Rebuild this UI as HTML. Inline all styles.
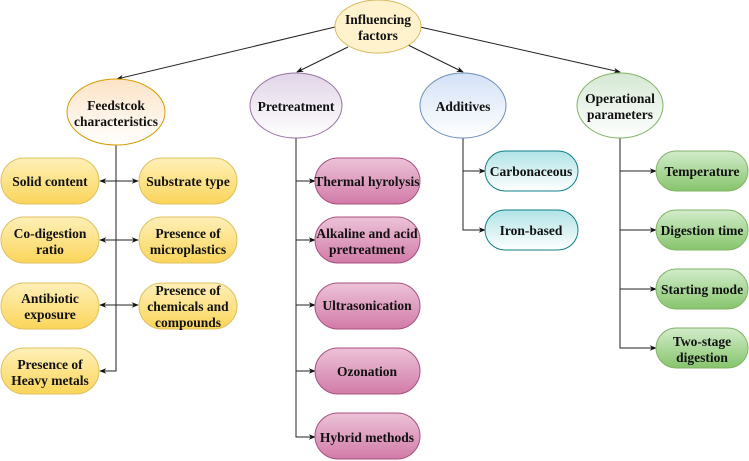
<!DOCTYPE html>
<html><head><meta charset="utf-8"><style>
html,body{margin:0;padding:0;background:#fff;font-family:"Liberation Serif",serif}
svg{display:block}
</style></head><body>
<svg width="749" height="461" viewBox="0 0 749 461" xmlns="http://www.w3.org/2000/svg">
<defs>
<linearGradient id="gRoot" x1="0" y1="0" x2="0" y2="1"><stop offset="0" stop-color="#fff2cc"/><stop offset="1" stop-color="#fff2cc"/></linearGradient>
<linearGradient id="gFeed" x1="0" y1="0" x2="0" y2="1"><stop offset="0" stop-color="#fde3c6"/><stop offset="1" stop-color="#ffffff"/></linearGradient>
<linearGradient id="gPre" x1="0" y1="0" x2="0" y2="1"><stop offset="0" stop-color="#e1d5e7"/><stop offset="1" stop-color="#ffffff"/></linearGradient>
<linearGradient id="gAdd" x1="0" y1="0" x2="0" y2="1"><stop offset="0" stop-color="#d4e1f7"/><stop offset="1" stop-color="#ffffff"/></linearGradient>
<linearGradient id="gOp" x1="0" y1="0" x2="0" y2="1"><stop offset="0" stop-color="#d5e8d4"/><stop offset="1" stop-color="#ffffff"/></linearGradient>
<linearGradient id="gY" x1="0" y1="0" x2="0" y2="1"><stop offset="0" stop-color="#fff0b8"/><stop offset="1" stop-color="#fbd55a"/></linearGradient>
<linearGradient id="gP" x1="0" y1="0" x2="0" y2="1"><stop offset="0" stop-color="#ecc3d8"/><stop offset="1" stop-color="#d27ba8"/></linearGradient>
<linearGradient id="gC" x1="0" y1="0" x2="0" y2="1"><stop offset="0" stop-color="#b0e3e6"/><stop offset="1" stop-color="#ffffff"/></linearGradient>
<linearGradient id="gG" x1="0" y1="0" x2="0" y2="1"><stop offset="0" stop-color="#d2eccb"/><stop offset="1" stop-color="#86c56b"/></linearGradient>
<marker id="ah" viewBox="0 0 10 10" refX="9" refY="5" markerWidth="7" markerHeight="7" orient="auto-start-reverse"><path d="M0,1 L10,5 L0,9 L3,5 Z" fill="#111"/></marker>
</defs>
<g stroke="#222" stroke-width="1" fill="none">
<line x1="335" y1="27" x2="117" y2="79" marker-end="url(#ah)"/>
<line x1="348" y1="47" x2="297" y2="72" marker-end="url(#ah)"/>
<line x1="408" y1="45" x2="463" y2="72" marker-end="url(#ah)"/>
<line x1="420" y1="27" x2="620" y2="72" marker-end="url(#ah)"/>
<path d="M116,145 V371 H100" marker-end="url(#ah)"/>
<line x1="116" y1="181" x2="100" y2="181" marker-end="url(#ah)"/>
<line x1="116" y1="240" x2="100" y2="240" marker-end="url(#ah)"/>
<line x1="116" y1="305" x2="100" y2="305" marker-end="url(#ah)"/>
<line x1="116" y1="181" x2="138" y2="181" marker-end="url(#ah)"/>
<line x1="116" y1="240" x2="138" y2="240" marker-end="url(#ah)"/>
<line x1="116" y1="305" x2="138" y2="305" marker-end="url(#ah)"/>
<path d="M296,138 V437 H315" marker-end="url(#ah)"/>
<line x1="296" y1="181" x2="315" y2="181" marker-end="url(#ah)"/>
<line x1="296" y1="240" x2="315" y2="240" marker-end="url(#ah)"/>
<line x1="296" y1="305" x2="315" y2="305" marker-end="url(#ah)"/>
<line x1="296" y1="371" x2="315" y2="371" marker-end="url(#ah)"/>
<path d="M463,138 V230 H485" marker-end="url(#ah)"/>
<line x1="463" y1="171" x2="485" y2="171" marker-end="url(#ah)"/>
<path d="M620,138 V348 H656" marker-end="url(#ah)"/>
<line x1="620" y1="171" x2="656" y2="171" marker-end="url(#ah)"/>
<line x1="620" y1="230" x2="656" y2="230" marker-end="url(#ah)"/>
<line x1="620" y1="289" x2="656" y2="289" marker-end="url(#ah)"/>
</g>
<ellipse cx="378" cy="26.5" rx="43" ry="26.5" fill="url(#gRoot)" stroke="#d6b656"/>
<ellipse cx="116" cy="112" rx="49" ry="33" fill="url(#gFeed)" stroke="#d79b00"/>
<ellipse cx="296" cy="105.5" rx="46" ry="32.5" fill="url(#gPre)" stroke="#9673a6"/>
<ellipse cx="463" cy="105.5" rx="43" ry="32.5" fill="url(#gAdd)" stroke="#6c8ebf"/>
<ellipse cx="620" cy="105.5" rx="43" ry="32.5" fill="url(#gOp)" stroke="#82b366"/>
<g stroke="#e0c060" fill="url(#gY)">
<rect x="1" y="158" width="98" height="46" rx="23"/>
<rect x="1" y="217" width="98" height="46" rx="23"/>
<rect x="1" y="283" width="98" height="46" rx="23"/>
<rect x="1" y="348" width="98" height="46" rx="23"/>
<rect x="139" y="158" width="98" height="46" rx="23"/>
<rect x="139" y="217" width="98" height="46" rx="23"/>
<rect x="139" y="283" width="98" height="46" rx="23"/>
</g>
<g stroke="#a8507f" fill="url(#gP)">
<rect x="315" y="158" width="105" height="46" rx="23"/>
<rect x="315" y="217" width="105" height="46" rx="23"/>
<rect x="315" y="283" width="105" height="46" rx="23"/>
<rect x="315" y="348" width="105" height="46" rx="23"/>
<rect x="315" y="413" width="105" height="46" rx="23"/>
</g>
<g stroke="#0e8088" fill="url(#gC)">
<rect x="485" y="151" width="93" height="40" rx="20"/>
<rect x="485" y="210" width="93" height="40" rx="20"/>
</g>
<g stroke="#82b366" fill="url(#gG)">
<rect x="656" y="151" width="92" height="40" rx="20"/>
<rect x="656" y="210" width="92" height="40" rx="20"/>
<rect x="656" y="269" width="92" height="40" rx="20"/>
<rect x="656" y="328" width="92" height="40" rx="20"/>
</g>
<g font-family="Liberation Serif, serif" font-weight="bold" font-size="13.5" fill="#111" text-anchor="middle" style="font-family:'Liberation Serif',serif">
<text x="378" y="24">Influencing</text><text x="378" y="40">factors</text>
<text x="116" y="110">Feedstcok</text><text x="116" y="126">characteristics</text>
<text x="296" y="111">Pretreatment</text>
<text x="463" y="111">Additives</text>
<text x="620" y="103">Operational</text><text x="620" y="119">parameters</text>
<text x="50" y="186">Solid content</text>
<text x="50" y="238">Co-digestion</text><text x="50" y="254">ratio</text>
<text x="50" y="303">Antibiotic</text><text x="50" y="319">exposure</text>
<text x="50" y="369">Presence of</text><text x="50" y="385">Heavy metals</text>
<text x="188" y="186">Substrate type</text>
<text x="188" y="238">Presence of</text><text x="188" y="254">microplastics</text>
<text x="188" y="295">Presence of</text><text x="188" y="311">chemicals and</text><text x="188" y="327">compounds</text>
<text x="367" y="186">Thermal hyrolysis</text>
<text x="367" y="238">Alkaline and acid</text><text x="367" y="254">pretreatment</text>
<text x="367" y="310">Ultrasonication</text>
<text x="367" y="376">Ozonation</text>
<text x="367" y="442">Hybrid methods</text>
<text x="531" y="176">Carbonaceous</text>
<text x="531" y="235">Iron-based</text>
<text x="702" y="176">Temperature</text>
<text x="702" y="235">Digestion time</text>
<text x="702" y="294">Starting mode</text>
<text x="702" y="346">Two-stage</text><text x="702" y="362">digestion</text>
</g>
</svg>
</body></html>
